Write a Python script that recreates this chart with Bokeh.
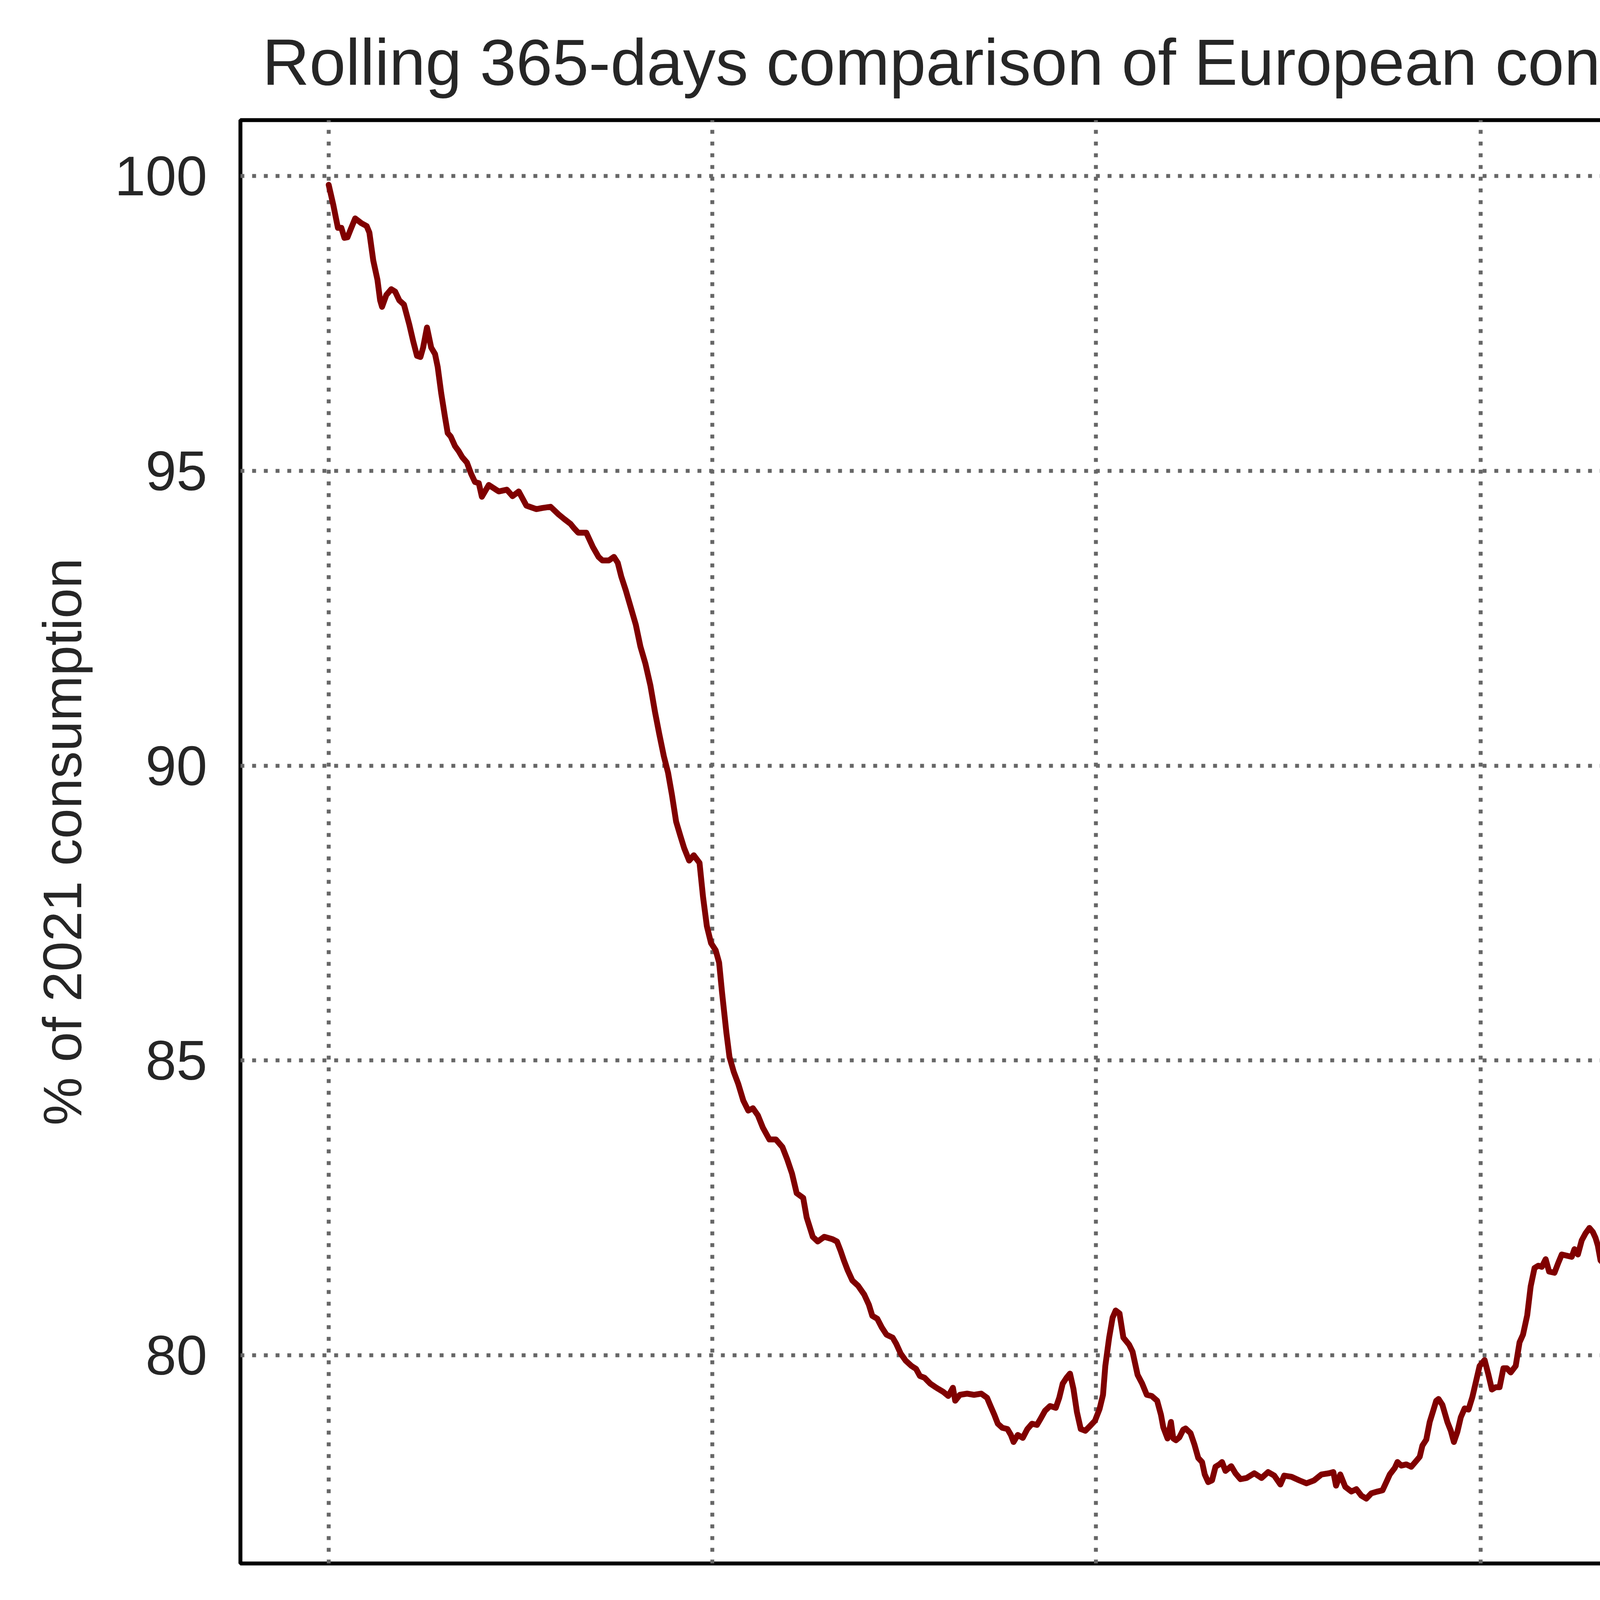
import math
import numpy as np
import pandas as pd
from bokeh.plotting import figure
from bokeh.models import Range1d, FixedTicker, DatetimeTickFormatter
from bokeh.embed import file_html
from bokeh.resources import INLINE

TITLE = "Rolling 365-days comparison of European consumption with 2021"
YLABEL = "% of 2021 consumption"
START = "2022-01-01"
TICK_YEARS = [2022, 2023, 2024, 2025, 2026]
Y_TICKS = [80, 85, 90, 95, 100]

# time in years since 2022-01-01
t_years = [
    0.000, 0.012, 0.024, 0.033, 0.041, 0.049, 0.057, 0.069, 0.085, 0.099,
    0.106, 0.116, 0.127, 0.134, 0.139, 0.150, 0.163, 0.173, 0.184, 0.196,
    0.210, 0.220, 0.230, 0.239, 0.246, 0.256, 0.267, 0.277, 0.284, 0.293,
    0.303, 0.310, 0.318, 0.329, 0.339, 0.348, 0.360, 0.371, 0.381, 0.391,
    0.399, 0.417, 0.443, 0.464, 0.479, 0.495, 0.515, 0.541, 0.557, 0.578,
    0.599, 0.614, 0.630, 0.640, 0.650,
    0.671, 0.688, 0.703, 0.713, 0.730, 0.743, 0.753, 0.762, 0.774, 0.787,
    0.800, 0.812, 0.825, 0.838, 0.850, 0.861, 0.873, 0.884, 0.894, 0.905,
    0.916, 0.926, 0.939, 0.951, 0.966, 0.975, 0.985, 0.996, 1.008, 1.017,
    1.025, 1.036, 1.044, 1.055, 1.067, 1.080, 1.093, 1.105, 1.118, 1.131,
    1.148, 1.165, 1.182, 1.194, 1.207, 1.219, 1.236, 1.245, 1.261, 1.274,
    1.291, 1.312, 1.324,
    1.333, 1.342, 1.352, 1.364, 1.379, 1.395, 1.407, 1.416, 1.429, 1.441,
    1.453, 1.469, 1.478, 1.490, 1.503, 1.518, 1.530, 1.540, 1.552, 1.567,
    1.583, 1.601, 1.614, 1.626, 1.632, 1.644, 1.663, 1.681, 1.700, 1.715,
    1.724, 1.734, 1.743, 1.755, 1.768, 1.777, 1.784, 1.795, 1.808, 1.820,
    1.832, 1.845, 1.854, 1.866, 1.879, 1.894, 1.903, 1.912, 1.922, 1.931,
    1.940, 1.949, 1.959, 1.971, 1.983, 1.996, 2.008, 2.017, 2.023, 2.033,
    2.042, 2.050, 2.060, 2.070, 2.085, 2.094, 2.107, 2.119, 2.131, 2.144,
    2.158, 2.168, 2.174, 2.185, 2.194, 2.200, 2.207, 2.216, 2.226, 2.232,
    2.245, 2.255, 2.265, 2.275, 2.282, 2.291, 2.301, 2.310, 2.320, 2.327,
    2.336, 2.351, 2.362, 2.375, 2.391, 2.411, 2.430, 2.447, 2.463, 2.479,
    2.489, 2.508, 2.528, 2.547, 2.567, 2.586, 2.606, 2.617, 2.624, 2.635,
    2.648, 2.664, 2.677, 2.690, 2.703, 2.716, 2.732, 2.745, 2.755, 2.764,
    2.777, 2.784, 2.794, 2.807, 2.820, 2.833, 2.842, 2.849, 2.859, 2.868,
    2.878, 2.885, 2.891, 2.901, 2.914, 2.923, 2.931, 2.940, 2.949, 2.959,
    2.969, 2.979, 2.988, 2.998, 3.011, 3.021, 3.030, 3.040, 3.050, 3.060,
    3.069, 3.079, 3.092, 3.102, 3.111,
    3.122, 3.131, 3.141, 3.151, 3.160, 3.170, 3.179, 3.193, 3.203, 3.212,
    3.225, 3.238, 3.245, 3.254, 3.264, 3.274, 3.284, 3.293, 3.300, 3.306,
    3.313, 3.326, 3.336, 3.349, 3.361, 3.378, 3.391, 3.410, 3.430, 3.442,
    3.459, 3.472, 3.485, 3.501, 3.517, 3.534, 3.553, 3.569, 3.585, 3.605,
    3.624, 3.644, 3.657, 3.670, 3.683, 3.696, 3.709, 3.722, 3.735, 3.748,
    3.761, 3.770, 3.780, 3.790, 3.800, 3.809, 3.822, 3.835, 3.845, 3.855,
    3.864, 3.874, 3.884, 3.897, 3.903, 3.916, 3.929, 3.939, 3.949, 3.955,
    3.968, 3.981, 3.991, 4.001, 4.010, 4.020, 4.030, 4.040, 4.049, 4.059,
    4.069, 4.078, 4.088, 4.097,
    4.106, 4.114, 4.119, 4.130, 4.141, 4.149, 4.158, 4.164, 4.175, 4.183,
    4.191, 4.199, 4.208, 4.219, 4.230, 4.238, 4.246, 4.254, 4.266, 4.274,
    4.282, 4.293, 4.304, 4.315, 4.329, 4.343, 4.354, 4.365, 4.376, 4.387,
    4.395, 4.409, 4.420, 4.431, 4.445, 4.456, 4.470, 4.481, 4.495, 4.506,
    4.519, 4.533, 4.546, 4.564, 4.575, 4.585, 4.591,
]

# % of 2021 consumption
pct = [
    99.85, 99.51, 99.12, 99.12, 98.95, 98.96, 99.09, 99.28, 99.20, 99.15,
    99.04, 98.57, 98.24, 97.89, 97.78, 97.98, 98.08, 98.04, 97.89, 97.82,
    97.48, 97.20, 96.95, 96.93, 97.09, 97.43, 97.09, 96.98, 96.76, 96.32,
    95.91, 95.64, 95.58, 95.42, 95.33, 95.23, 95.14, 94.95, 94.81, 94.79,
    94.56, 94.76, 94.65, 94.68, 94.57, 94.65, 94.41, 94.35, 94.37, 94.39,
    94.26, 94.18, 94.10, 94.02, 93.95,
    93.95, 93.71, 93.54, 93.48, 93.48, 93.54, 93.44, 93.21, 92.97, 92.68,
    92.39, 92.02, 91.73, 91.36, 90.91, 90.54, 90.16, 89.88, 89.51, 89.05,
    88.81, 88.60, 88.39, 88.48, 88.35, 87.78, 87.28, 86.99, 86.87, 86.66,
    86.13, 85.47, 85.06, 84.81, 84.60, 84.32, 84.15, 84.19, 84.07, 83.86,
    83.66, 83.66, 83.53, 83.33, 83.08, 82.75, 82.67, 82.34, 82.01, 81.93,
    82.01, 81.97, 81.93,
    81.78, 81.61, 81.44, 81.27, 81.18, 81.03, 80.86, 80.67, 80.62, 80.47,
    80.35, 80.30, 80.20, 80.03, 79.91, 79.82, 79.77, 79.65, 79.62, 79.52,
    79.45, 79.38, 79.31, 79.45, 79.23, 79.33, 79.35, 79.33, 79.35, 79.28,
    79.14, 78.99, 78.84, 78.77, 78.75, 78.65, 78.53, 78.65, 78.60, 78.75,
    78.84, 78.82, 78.92, 79.06, 79.14, 79.11, 79.28, 79.52, 79.62, 79.69,
    79.43, 79.04, 78.75, 78.72, 78.80, 78.89, 79.09, 79.33, 79.82, 80.30,
    80.64, 80.76, 80.71, 80.30, 80.18, 80.06, 79.67, 79.52, 79.33, 79.31,
    79.23, 78.99, 78.78, 78.59, 78.87, 78.59, 78.56, 78.61, 78.74, 78.76,
    78.68, 78.49, 78.26, 78.19, 77.98, 77.85, 77.88, 78.11, 78.15, 78.19,
    78.04, 78.12, 78.00, 77.90, 77.92, 78.00, 77.92, 78.02, 77.96, 77.81,
    77.96, 77.94, 77.88, 77.83, 77.88, 77.98, 78.00, 78.02, 77.79, 77.98,
    77.77, 77.69, 77.73, 77.62, 77.57, 77.66, 77.69, 77.71, 77.85, 77.98,
    78.09, 78.19, 78.13, 78.15, 78.11, 78.21, 78.28, 78.47, 78.57, 78.87,
    79.08, 79.23, 79.26, 79.16, 78.87, 78.72, 78.53, 78.70, 78.95, 79.10,
    79.08, 79.29, 79.54, 79.82, 79.92, 79.67, 79.42, 79.46, 79.46, 79.78,
    79.78, 79.71, 79.82, 80.22, 80.35,
    80.68, 81.17, 81.48, 81.52, 81.50, 81.63, 81.42, 81.40, 81.57, 81.71,
    81.69, 81.67, 81.80, 81.71, 81.95, 82.07, 82.16, 82.09, 81.99, 81.86,
    81.61, 81.52, 81.46, 81.52, 81.63, 81.71, 81.76, 81.74, 81.69, 81.65,
    81.55, 81.50, 81.55, 81.59, 81.67, 81.61, 81.55, 81.48, 81.38, 81.33,
    81.42, 81.48, 81.40, 81.29, 81.23, 81.31, 81.23, 81.19, 81.31, 81.40,
    81.38, 81.52, 81.59, 81.74, 81.86, 81.95, 82.03, 82.05, 81.95, 81.80,
    81.67, 81.46, 81.55, 81.57, 81.76, 81.86, 81.82, 81.65, 81.36, 81.23,
    81.31, 81.40, 81.57, 81.69, 81.99, 82.33, 82.41, 82.22, 82.16, 82.16,
    82.33, 82.66, 82.73, 82.79,
    82.72, 82.66, 82.48, 82.39, 82.43, 82.41, 82.27, 82.12, 82.04, 82.12,
    82.02, 81.89, 81.82, 81.77, 81.80, 81.95, 82.11, 82.12, 81.98, 81.93,
    82.07, 82.05, 82.02, 81.93, 82.04, 82.05, 81.95, 82.04, 82.13, 82.09,
    82.00, 81.91, 81.93, 81.86, 81.87, 81.86, 81.95, 82.05, 82.09, 81.98,
    81.95, 82.04, 82.05, 81.95, 82.02, 82.06, 82.05,
]

start = pd.Timestamp(START)
dates = start + pd.to_timedelta(np.array(t_years) * 365.25, unit="D")

W, H = 5670, 4504
ML, MT = 615, 307
MR = W - 5575
MB = H - 4002

x_start = (start + pd.Timedelta(days=-0.2299 * 365.25)).to_pydatetime()
x_end = (start + pd.Timedelta(days=4.817 * 365.25)).to_pydatetime()

FONT = "Liberation Sans"
TXT = "#262626"

p = figure(width=W, height=H, x_axis_type="datetime",
           x_range=Range1d(x_start, x_end), y_range=Range1d(76.47, 100.947),
           output_backend="svg", toolbar_location=None,
           min_border_left=ML, min_border_right=MR,
           min_border_top=MT, min_border_bottom=MB)

p.title.text = TITLE
p.title.align = "left"
p.title.offset = 56
p.title.text_font = FONT
p.title.text_font_size = "167px"
p.title.text_font_style = "normal"
p.title.text_color = TXT
p.title.standoff = 111

p.background_fill_color = "white"
p.border_fill_color = "white"
p.outline_line_color = "black"
p.outline_line_width = 10

tick_ms = [pd.Timestamp(f"{y}-01-01").value // 10**6 for y in TICK_YEARS]
p.xaxis.ticker = FixedTicker(ticks=tick_ms)
p.xaxis.formatter = DatetimeTickFormatter(
    years="%Y", months="%Y", days="%Y", hours="%Y", minutes="%Y",
    seconds="%Y", milliseconds="%Y", microseconds="%Y")
p.yaxis.ticker = FixedTicker(ticks=Y_TICKS)

for ax in p.axis:
    ax.axis_line_color = None
    ax.major_tick_line_color = None
    ax.minor_tick_line_color = None
    ax.major_tick_in = 0
    ax.major_tick_out = 0
    ax.minor_tick_in = 0
    ax.minor_tick_out = 0
    ax.major_label_text_font = FONT
    ax.major_label_text_font_size = "142px"
    ax.major_label_text_color = TXT

p.xaxis.major_label_orientation = math.pi / 2
p.xaxis.major_label_standoff = 107
p.yaxis.major_label_standoff = 85

p.yaxis.axis_label = YLABEL
p.yaxis.axis_label_text_font = FONT
p.yaxis.axis_label_text_font_size = "139px"
p.yaxis.axis_label_text_font_style = "normal"
p.yaxis.axis_label_text_color = TXT
p.yaxis.axis_label_standoff = 54

p.grid.grid_line_color = "#666666"
p.grid.grid_line_width = 10
p.grid.grid_line_dash = "10 20"

p.line(dates, pct, line_color="#800000", line_width=15, line_join="round", line_cap="round")

open("out.html", "w").write(file_html(p, INLINE))
